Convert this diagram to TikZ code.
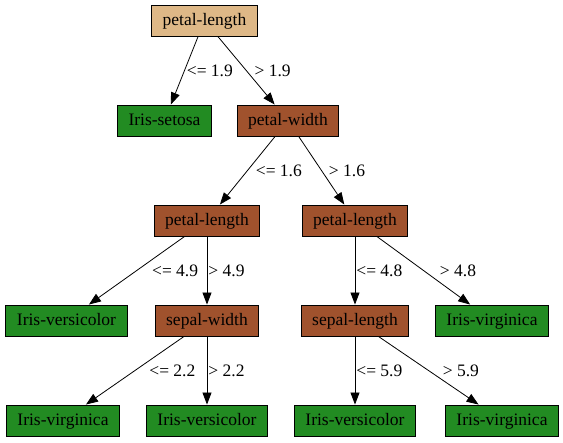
\documentclass[tikz,border=0pt]{standalone}
\usepackage{fontspec}
\setmainfont{Liberation Serif}
\usetikzlibrary{arrows.meta}
\definecolor{burlywood}{HTML}{DEB887}
\definecolor{sienna}{HTML}{A0522D}
\definecolor{forestgreen}{HTML}{228B22}
\tikzstyle{square} = [rectangle, draw, line width=0.9pt, text centered, minimum height=31pt, inner xsep=11pt, text height=13pt, text depth=3pt]
\tikzstyle{split} = [square, fill=sienna]
\tikzstyle{leaf} = [square, fill=forestgreen]
\tikzstyle{arrow} = [line width=0.8pt, -{Triangle[length=12pt, width=9pt]}]
\tikzstyle{lbl} = [anchor=west, inner sep=0pt]

\begin{document}
\begin{tikzpicture}[node distance=100pt, font=\fontsize{17.5}{20}\selectfont]
            \useasboundingbox (-204.5pt,20.5pt) rectangle (358.5pt,-422.5pt);
            \node (root) [square, fill=burlywood] {petal-length};
            \node (setosa) [leaf, below of = root, xshift=-40pt] {Iris-setosa};
            \node (pw) [split, below of = root, xshift=83.5pt] {petal-width};
            \node (plL) [split, below of = pw, xshift=-81pt] {petal-length};
            \node (plR) [split, below of = pw, xshift=67pt] {petal-length};
            \node (versA) [leaf, below of = plL, xshift=-140.5pt] {Iris-versicolor};
            \node (sw) [split, below of = plL] {sepal-width};
            \node (sl) [split, below of = plR] {sepal-length};
            \node (virA) [leaf, below of = plR, xshift=137pt] {Iris-virginica};
            \node (virB) [leaf, below of = sw, xshift=-144pt] {Iris-virginica};
            \node (versB) [leaf, below of = sw] {Iris-versicolor};
            \node (versC) [leaf, below of = sl] {Iris-versicolor};
            \node (virC) [leaf, below of = sl, xshift=147pt] {Iris-virginica};
            \draw [arrow] (root) -- node[lbl, xshift=2pt] {<= 1.9} (setosa);
            \draw [arrow] (root) -- node[lbl, xshift=8pt] {> 1.9} (pw);
            \draw [arrow] (pw) -- node[lbl, xshift=8pt] {<= 1.6} (plL);
            \draw [arrow] (pw) -- node[lbl, xshift=7pt] {> 1.6} (plR);
            \draw [arrow] (plL) -- node[lbl, xshift=15pt] {<= 4.9} (versA);
            \draw [arrow] (plL) -- node[lbl, xshift=1pt] {> 4.9} (sw);
            \draw [arrow] (plR) -- node[lbl, xshift=1pt] {<= 4.8} (sl);
            \draw [arrow] (plR) -- node[lbl, xshift=16pt] {> 4.8} (virA);
            \draw [arrow] (sw) -- node[lbl, xshift=14pt] {<= 2.2} (virB);
            \draw [arrow] (sw) -- node[lbl, xshift=1pt] {> 2.2} (versB);
            \draw [arrow] (sl) -- node[lbl, xshift=1pt] {<= 5.9} (versC);
            \draw [arrow] (sl) -- node[lbl, xshift=14pt] {> 5.9} (virC);
        \end{tikzpicture}
\end{document}
